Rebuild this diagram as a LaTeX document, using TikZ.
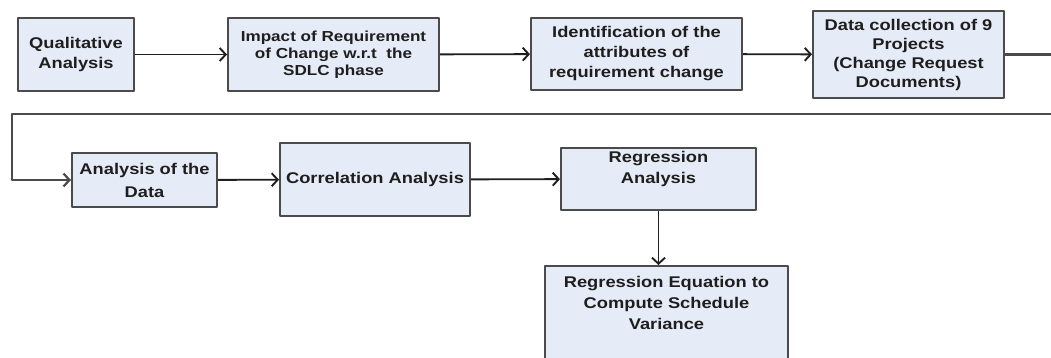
\documentclass[tikz,border=0pt]{standalone}
\usepackage{fontspec}
\setmainfont{Liberation Sans}[FakeStretch=1.18]
\usetikzlibrary{arrows.meta}
\definecolor{boxfill}{RGB}{230,236,247}
\definecolor{boxline}{RGB}{75,75,75}
\definecolor{inkgray}{RGB}{30,30,30}
\begin{document}
\begin{tikzpicture}[x=1pt, y=-1pt, line join=round,
  stepbox/.style={draw=boxline, line width=2pt, fill=boxfill, align=center,
    text=inkgray, inner sep=2pt, font=\fontsize{15.5}{20}\selectfont\bfseries},
  steptext/.style={align=center, text=inkgray, inner sep=2pt,
    font=\fontsize{15.5}{21}\selectfont\bfseries},
  flow/.style={draw=inkgray, line width=1.9pt,
    -{Straight Barb[length=6pt, width=13pt]}}]
  % the page, cut off at the bottom like the scan
  \useasboundingbox (0,0) rectangle (1051,358);
  \clip (0,0) rectangle (1051,358);
  % first row of steps
  \node[stepbox, minimum width=116, minimum height=73] (qual) at (76,54.5) {Qualitative\\Analysis};
  \node[stepbox, minimum width=211, minimum height=73, font=\fontsize{14.5}{17}\selectfont\bfseries]
    (impact) at (333.5,54.5) {Impact of Requirement\\of Change w.r.t\ \ the\\SDLC phase};
  \node[stepbox, minimum width=211, minimum height=72] (ident) at (636.5,54) {Identification of the\\attributes of\\requirement change};
  \node[stepbox, minimum width=191, minimum height=87, font=\fontsize{15.5}{19}\selectfont\bfseries]
    (datac) at (908.5,54.5) {Data collection of 9\\Projects\\(Change Request\\Documents)};
  % second row, the last two boxes have their text near the top
  \node[stepbox, minimum width=145, minimum height=54, font=\fontsize{15.5}{23}\selectfont\bfseries]
    (anal) at (144.5,180) {Analysis of the\\Data};
  \node[stepbox, minimum width=190, minimum height=73] (corr) at (375,179.5) {Correlation Analysis};
  \node[stepbox, minimum width=195, minimum height=62] (regr) at (658.5,179) {};
  \node[steptext, anchor=north, yshift=-2] (regrtext) at (regr.north) {Regression\\Analysis};
  \node[stepbox, minimum width=243, minimum height=110, anchor=north] (regeq) at (666.5,265) {};
  \node[steptext, anchor=north, yshift=-9] (regeqtext) at (regeq.north) {Regression Equation to\\Compute Schedule\\Variance};
  % the arrows between them
  \draw[flow] (qual) -- (impact);
  \draw[flow] (impact) -- (ident);
  \draw[flow] (ident) -- (datac);
  \draw[flow] (anal) -- (corr);
  \draw[flow] (corr) -- (regr);
  \draw[flow] (regr.south) -- (regr.south |- regeq.north);
  % the long way back from the first row to the second
  \coordinate (rturn) at (1075,0);
  \coordinate (lturn) at (12,114);
  \draw[flow, draw=boxline, line width=2.2pt] (datac.east) -- (datac.east -| rturn) |- (lturn) |- (anal.west);
\end{tikzpicture}
\end{document}
